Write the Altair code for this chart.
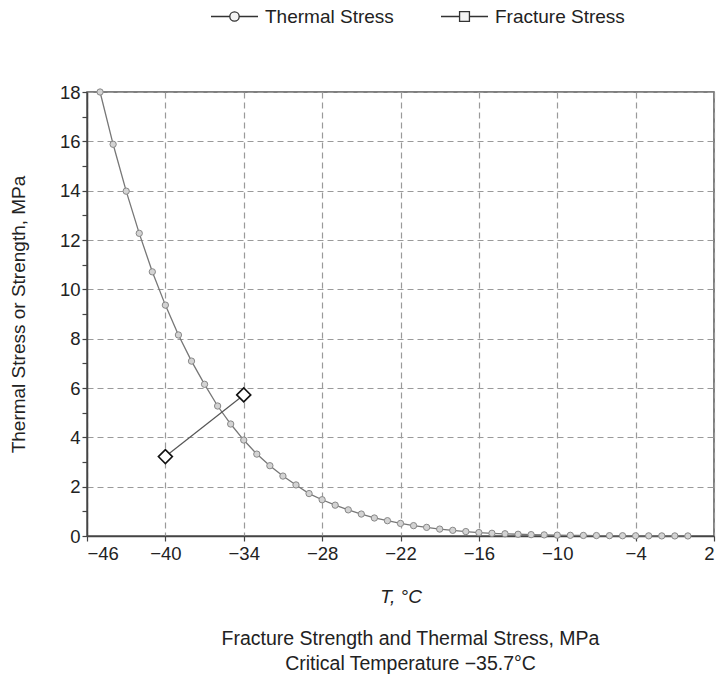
import altair as alt
import pandas as pd

# ---- data ----
thermal_T = list(range(-45, 1))
thermal_S = [18.0, 15.88, 13.98, 12.27, 10.71, 9.36, 8.15, 7.09, 6.15, 5.27,
             4.54, 3.89, 3.32, 2.85, 2.43, 2.07, 1.72, 1.47, 1.25, 1.06,
             0.89, 0.73, 0.62, 0.51, 0.42, 0.35, 0.28, 0.23, 0.18, 0.14,
             0.11, 0.09, 0.07, 0.055, 0.045, 0.035, 0.028, 0.022, 0.017, 0.013,
             0.010, 0.008, 0.006, 0.004, 0.003, 0.002]
fracture_T = [-40, -34]
fracture_S = [3.22, 5.72]

x_ticks = [-46, -40, -34, -28, -22, -16, -10, -4, 2]
y_ticks = list(range(0, 19))

thermal = pd.DataFrame({"T": thermal_T, "S": thermal_S, "series": "Thermal Stress"})
fracture = pd.DataFrame({"T": fracture_T, "S": fracture_S, "series": "Fracture Stress"})

FONT = "Liberation Sans"
TXT = "#222222"

x_enc = alt.X(
    "T:Q",
    scale=alt.Scale(domain=[-46, 2], nice=False, zero=False),
    axis=alt.Axis(
        values=x_ticks, title="T, °C", grid=True, gridDash=[6, 4], gridColor="#9a9a9a",
        gridWidth=1.2, domainColor="#444", domainWidth=1.5, tickColor="#444", tickSize=5,
        tickWidth=1.2, labelFontSize=18.5, labelFont=FONT, labelColor=TXT, labelPadding=3,
        titleFont=FONT, titleFontSize=19, titleFontWeight="normal", titleFontStyle="italic",
        titleColor=TXT, titlePadding=25,
    ),
)
y_enc = alt.Y(
    "S:Q",
    scale=alt.Scale(domain=[0, 18], nice=False),
    axis=alt.Axis(
        values=y_ticks, title="Thermal Stress or Strength, MPa",
        labelExpr="datum.value % 2 === 0 ? datum.label : ''",
        grid=True, gridDash=[6, 4], gridColor="#9a9a9a", gridWidth=1.2,
        gridOpacity={"condition": {"test": "datum.value % 2 === 1", "value": 0}, "value": 1},
        domainColor="#444", domainWidth=1.5, tickColor="#444", tickSize=5, tickWidth=1.2,
        labelFontSize=18.5, labelFont=FONT, labelColor=TXT, labelPadding=2,
        titleFont=FONT, titleFontSize=19, titleFontWeight="normal", titleColor=TXT,
        titleX=-69, titleY=222, titleAngle=270, titleBaseline="middle", titleAlign="center",
    ),
)

thermal_sym = ("M-1,0L-0.2,0M0.2,0L1,0M-0.2,0A0.2,0.2,0,1,1,0.2,0"
               "A0.2,0.2,0,1,1,-0.2,0Z")
fracture_sym = "M-1,0L-0.21,0M0.21,0L1,0M-0.21,-0.21L0.21,-0.21L0.21,0.21L-0.21,0.21Z"

def leg(sym, lx):
    return alt.Legend(
        title=None, orient="none", legendX=lx, legendY=-100, direction="horizontal",
        symbolType=sym, symbolSize=2209, symbolStrokeColor="#333", symbolFillColor="#f4f4f4",
        symbolStrokeWidth=1.3, labelFont=FONT, labelFontSize=19, labelColor=TXT,
        labelOffset=6,
    )

thermal_line = alt.Chart(thermal).mark_line(color="#777", strokeWidth=1.3).encode(
    x=x_enc, y=y_enc,
    opacity=alt.Opacity("series:N", scale=alt.Scale(domain=["Thermal Stress"], range=[1]),
                        legend=leg(thermal_sym, 123)),
)
thermal_pts = alt.Chart(thermal).mark_point(
    shape="circle", size=40, filled=True, fill="#d3d3d3", stroke="#888",
    strokeWidth=1, fillOpacity=1,
).encode(x=x_enc, y=y_enc)

fracture_line = alt.Chart(fracture).mark_line(color="#555", strokeWidth=1.2).encode(
    x=x_enc, y=y_enc,
    opacity=alt.Opacity("series:N", scale=alt.Scale(domain=["Fracture Stress"], range=[1]),
                        legend=leg(fracture_sym, 353)),
)
fracture_pts = alt.Chart(fracture).mark_point(
    shape="diamond", size=196, filled=True, fill="white", stroke="#111",
    strokeWidth=1.6, fillOpacity=1,
).encode(x=x_enc, y=y_enc)

chart = (
    alt.layer(thermal_line, thermal_pts, fracture_line, fracture_pts)
    .resolve_scale(opacity="independent")
    .resolve_legend(opacity="independent")
    .properties(
        width=627, height=444,
        padding={"left": 87, "top": 92, "right": 5, "bottom": 139},
        autosize=alt.AutoSizeParams(type="none"),
        title=alt.TitleParams(
            text=["Fracture Strength and Thermal Stress, MPa", "Critical Temperature \u221235.7°C"],
            orient="bottom", anchor="middle", font=FONT, fontSize=19.5, fontWeight="normal",
            color=TXT, lineHeight=25, offset=23, dx=10,
        ),
        background="white",
    )
    .configure_view(stroke="#555", strokeWidth=1.5)
)

chart.save("out.html", embed_options={"renderer": "svg", "actions": False})
